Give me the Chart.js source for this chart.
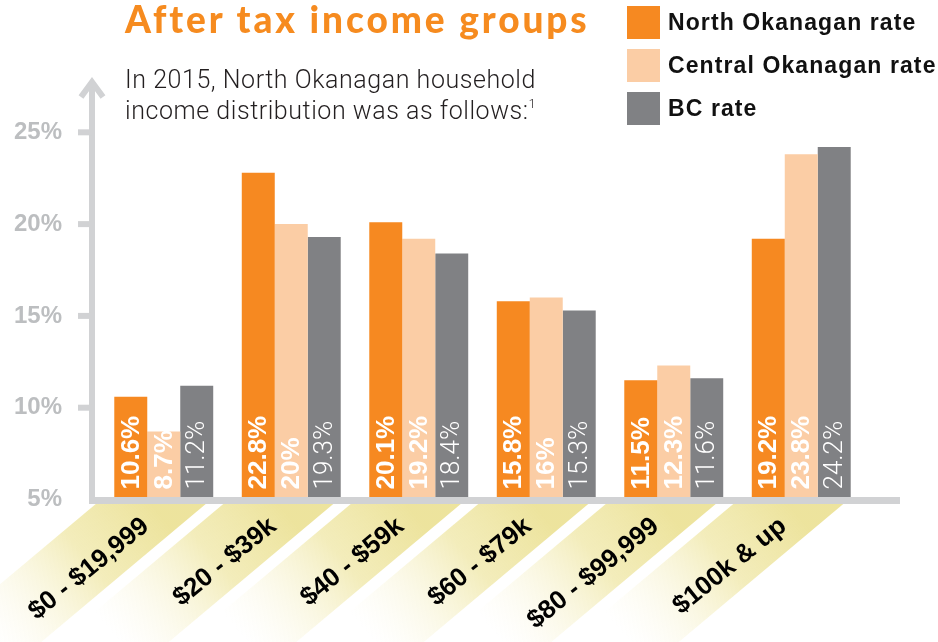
<!DOCTYPE html>
<html>
<head>
<meta charset="utf-8">
<title>After tax income groups</title>
<script src="https://cdn.jsdelivr.net/npm/chart.js@4.4.1/dist/chart.umd.min.js"></script>
<style>
  body { margin: 0; background: #fff; }
  #wrap { position: relative; width: 938px; height: 642px; overflow: hidden; }
  #myChart { position: absolute; left: 0; top: 0; }
  .title {
    position: absolute; left: 125px; top: 0px; margin: 0;
    font: 900 37px/37px Lato, "Open Sans", sans-serif; letter-spacing: 2.9px;
    color: #f68b1f; white-space: nowrap;
  }
  .intro {
    position: absolute; left: 125px; top: 64px; margin: 0;
    font: 300 25px/31px Roboto, "Liberation Sans", sans-serif; letter-spacing: 0.55px;
    color: #231f20; white-space: nowrap;
  }
  .intro sup { font-size: 13px; vertical-align: 11px; line-height: 0; }
  .legend { position: absolute; left: 627px; top: 6px; }
  .legend div {
    position: relative; height: 33px; margin-bottom: 10px; padding-left: 41px;
    font: bold 23px/33px "Liberation Sans", Arial, sans-serif; letter-spacing: 1.1px;
    color: #111; white-space: nowrap;
  }
  .legend span { position: absolute; left: 0; top: 0; width: 33px; height: 33px; }
</style>
</head>
<body>
<div id="wrap">
  <canvas id="myChart" width="938" height="642"></canvas>
  <div class="title">After tax income groups</div>
  <div class="intro">In 2015, North Okanagan household<br>income distribution was as follows:<sup>1</sup></div>
  <div class="legend">
    <div><span style="background:#f68921"></span>North Okanagan rate</div>
    <div><span style="background:#fbcda5"></span>Central Okanagan rate</div>
    <div><span style="background:#808184"></span>BC rate</div>
  </div>
</div>
<script>
const categories = ['$0 - $19,999', '$20 - $39k', '$40 - $59k', '$60 - $79k', '$80 - $99,999', '$100k & up'];
const northOkanagan = [10.6, 22.8, 20.1, 15.8, 11.5, 19.2];
const centralOkanagan = [8.7, 20, 19.2, 16, 12.3, 23.8];
const bcRate = [11.2, 19.3, 18.4, 15.3, 11.6, 24.2];
const yTicks = [5, 10, 15, 20, 25];

const axisGrey = '#d1d2d4';

// axes drawn by hand: arrow on the y axis, stubs, heavy base line,
// yellow ribbons under each group and the rotated value labels
const decor = {
  id: 'decor',
  beforeDatasetsDraw(chart) {
    const c = chart.ctx;
    const x = chart.scales.x;
    const a = 40 * Math.PI / 180;
    const dx = -Math.cos(a), dy = Math.sin(a);
    const y0 = 504;
    const len = 170;
    c.save();
    categories.forEach((label, i) => {
      const cx = x.getPixelForValue(i);
      const xl = cx - 68, xr = cx + 42;
      const w = xr - xl;
      const g = c.createLinearGradient(cx - 13, y0, cx - 13 + dx * (len + 40), y0 + dy * (len + 40));
      g.addColorStop(0, 'rgba(236,226,152,0.95)');
      g.addColorStop(0.4, 'rgba(240,232,170,0.8)');
      g.addColorStop(1, 'rgba(250,246,220,0)');
      c.fillStyle = g;
      c.beginPath();
      c.moveTo(xl, y0);
      c.lineTo(xr, y0);
      c.lineTo(xr + dx * (len + w * Math.cos(a)), y0 + dy * (len + w * Math.cos(a)));
      c.lineTo(xl + dx * len, y0 + dy * len);
      c.closePath();
      c.fill();

      c.save();
      c.translate(cx - 18, 523);
      c.rotate(-39 * Math.PI / 180);
      c.fillStyle = '#000';
      c.font = 'bold 26px "Liberation Sans", Arial, sans-serif';
      c.textAlign = 'right';
      c.textBaseline = 'middle';
      c.fillText(label, 0, 0);
      c.restore();
    });
    c.restore();
  },
  afterDatasetsDraw(chart) {
    const c = chart.ctx;
    const y = chart.scales.y;
    const ax = 92;
    const base = y.getPixelForValue(5);
    c.save();
    c.strokeStyle = axisGrey;
    c.lineCap = 'butt';
    c.lineJoin = 'miter';

    // y axis with arrow head
    c.lineWidth = 6;
    c.beginPath();
    c.moveTo(ax, 82);
    c.lineTo(ax, base + 4);
    c.stroke();
    c.beginPath();
    c.moveTo(ax - 11, 97);
    c.lineTo(ax, 82);
    c.lineTo(ax + 11, 97);
    c.stroke();

    yTicks.forEach(v => {
      if (v === 5) return;
      const py = y.getPixelForValue(v);
      c.beginPath();
      c.moveTo(78, py);
      c.lineTo(ax, py);
      c.stroke();
    });

    // x axis
    c.lineWidth = 7;
    c.beginPath();
    c.moveTo(ax - 3, base + 1);
    c.lineTo(900, base + 1);
    c.stroke();

    // values inside the bars
    chart.data.datasets.forEach((ds, di) => {
      const meta = chart.getDatasetMeta(di);
      meta.data.forEach((bar, i) => {
        c.save();
        c.translate(bar.x, base - 10);
        c.rotate(-Math.PI / 2);
        c.fillStyle = '#fff';
        c.font = di === 2 ? '300 26px Roboto, "Liberation Sans", sans-serif'
                          : 'bold 26px "Liberation Sans", Arial, sans-serif';
        c.textAlign = 'left';
        c.textBaseline = 'middle';
        c.fillText(ds.data[i] + '%', 0, 1);
        c.restore();
      });
    });
    c.restore();
  }
};

new Chart(document.getElementById('myChart'), {
  type: 'bar',
  data: {
    labels: categories,
    datasets: [
      { label: 'North Okanagan rate', data: northOkanagan, backgroundColor: '#f68921' },
      { label: 'Central Okanagan rate', data: centralOkanagan, backgroundColor: '#fbcda5' },
      { label: 'BC rate', data: bcRate, backgroundColor: '#808184' }
    ]
  },
  options: {
    responsive: false,
    animation: false,
    devicePixelRatio: 1,
    layout: { padding: { top: 95.6, bottom: 142.5, left: 0, right: 73 } },
    datasets: {
      bar: { categoryPercentage: 0.776, barPercentage: 1, borderWidth: 0 }
    },
    plugins: {
      legend: { display: false },
      tooltip: { enabled: false }
    },
    scales: {
      x: {
        display: false
      },
      y: {
        min: 5,
        max: 27,
        grid: { display: false },
        border: { display: false },
        afterBuildTicks: s => { s.ticks = yTicks.map(v => ({ value: v })); },
        afterFit: s => { s.width = 100; },
        ticks: {
          padding: 30,
          color: '#bcbec0',
          font: { family: '"Liberation Sans", Arial, sans-serif', size: 24, weight: 'bold' },
          callback: v => v + '%'
        }
      }
    }
  },
  plugins: [decor]
});
</script>
</body>
</html>
